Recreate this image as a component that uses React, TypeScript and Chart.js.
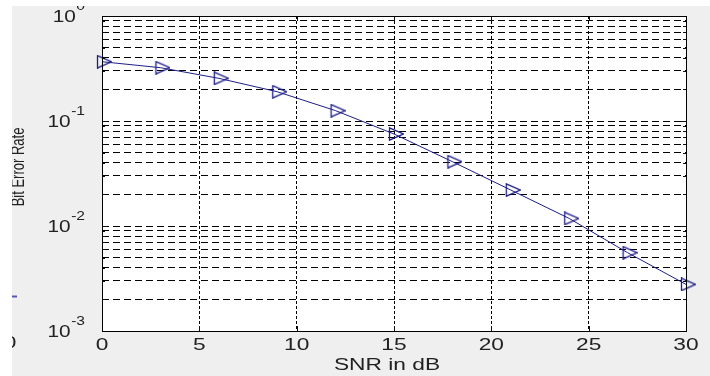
import { useEffect, useRef } from "react";
import { Chart, registerables } from "chart.js";

Chart.register(...registerables);

// ---- data ----
const snrDb = [0, 3, 6, 9, 12, 15, 18, 21, 24, 27, 30];
const bitErrorRate = [0.367, 0.322, 0.255, 0.19, 0.1255, 0.0752, 0.041, 0.022, 0.0118, 0.00557, 0.00278];
const xTickValues = [0, 5, 10, 15, 20, 25, 30];
const yDecadeExponents = [0, -1, -2, -3];
const yMinorMultipliers = [1, 2, 3, 4, 5, 6, 7, 8, 9];
const xTitle = "SNR in dB";
const yTitle = "Bit Error Rate";

const FONT = '"Liberation Sans", Arial, sans-serif';
const STRETCH = 1.42;
const TEXT_COLOR = "#222222";
const LINE_COLOR = "#1e1e88";

function stretchedText(
  ctx: CanvasRenderingContext2D,
  text: string,
  x: number,
  y: number,
  align: "left" | "center" | "right",
  font: string,
  sx = STRETCH
) {
  ctx.save();
  ctx.font = font;
  ctx.textBaseline = "middle";
  ctx.textAlign = "left";
  const w = ctx.measureText(text).width * sx;
  const left = align === "center" ? x - w / 2 : align === "right" ? x - w : x;
  ctx.translate(left, y);
  ctx.scale(sx, 1);
  ctx.fillText(text, 0, 0);
  ctx.restore();
  return w;
}

function makeMarker(): HTMLCanvasElement {
  const c = document.createElement("canvas");
  c.width = 20;
  c.height = 14;
  const g = c.getContext("2d")!;
  g.strokeStyle = LINE_COLOR;
  g.lineWidth = 1.3;
  g.beginPath();
  g.moveTo(5.5, 0.8);
  g.lineTo(19.3, 7);
  g.lineTo(5.5, 13.2);
  g.closePath();
  g.stroke();
  return c;
}

const matlabPlugin = {
  id: "matlabLook",
  beforeDraw(chart: any) {
    const { ctx, chartArea: a, width, height } = chart;
    ctx.save();
    ctx.fillStyle = "#efefef";
    ctx.fillRect(0, 0, width, height);
    ctx.fillStyle = "#ffffff";
    ctx.fillRect(a.left, a.top, a.right - a.left, a.bottom - a.top);
    ctx.restore();
  },
  afterDraw(chart: any) {
    const { ctx, chartArea: a, width, height } = chart;
    const xs = chart.scales.x;
    const ys = chart.scales.y;
    ctx.save();
    // inner tick marks
    ctx.strokeStyle = "#111";
    ctx.lineWidth = 1;
    ctx.beginPath();
    for (const v of xTickValues) {
      const px = Math.round(xs.getPixelForValue(v)) + 0.5;
      ctx.moveTo(px, a.bottom);
      ctx.lineTo(px, a.bottom - 5);
      ctx.moveTo(px, a.top);
      ctx.lineTo(px, a.top + 5);
    }
    for (const t of ys.ticks) {
      const py = Math.round(ys.getPixelForValue(t.value)) + 0.5;
      const len = t.major ? 5 : 3;
      ctx.moveTo(a.left, py);
      ctx.lineTo(a.left + len, py);
      ctx.moveTo(a.right, py);
      ctx.lineTo(a.right - len, py);
    }
    ctx.stroke();
    // box
    ctx.strokeStyle = "#000";
    ctx.strokeRect(Math.round(a.left) + 0.5, Math.round(a.top) + 0.5, Math.round(a.right - a.left), Math.round(a.bottom - a.top));

    ctx.fillStyle = TEXT_COLOR;
    // x tick labels
    for (const v of xTickValues) {
      stretchedText(ctx, String(v), xs.getPixelForValue(v), 346, "center", `16px ${FONT}`);
    }
    // y tick labels (10^k)
    for (const e of yDecadeExponents) {
      const py = ys.getPixelForValue(Math.pow(10, e));
      const expW = stretchedText(ctx, e === 0 ? "0" : "-" + Math.abs(e), 85, py - 9, "right", `12px ${FONT}`, 1.3);
      stretchedText(ctx, "10", 85 - expW - 0.5, py + 1.5, "right", `16px ${FONT}`, 1.3);
    }
    // x title
    stretchedText(ctx, xTitle, 387, 366, "center", `16px ${FONT}`);
    // y title (rotated)
    ctx.save();
    ctx.translate(19, 167);
    ctx.rotate(-Math.PI / 2);
    ctx.font = `13px ${FONT}`;
    ctx.textAlign = "center";
    ctx.textBaseline = "middle";
    ctx.scale(1, 1.4);
    ctx.fillText(yTitle, 0, 0);
    ctx.restore();

    // leftover fragments at the left edge
    stretchedText(ctx, "0", 10, 344, "center", `16px ${FONT}`);
    ctx.strokeStyle = "#5656b0";
    ctx.lineWidth = 2;
    ctx.beginPath();
    ctx.moveTo(12, 296.5);
    ctx.lineTo(17, 296.5);
    ctx.stroke();

    // white strips at the top and left edges
    ctx.fillStyle = "#ffffff";
    ctx.fillRect(0, 0, width, 6);
    ctx.fillRect(0, 0, 12, height);
    ctx.restore();
  },
};

export default function App() {
  const ref = useRef<HTMLCanvasElement | null>(null);
  useEffect(() => {
    if (!ref.current) return;
    const marker = makeMarker();
    const chart = new Chart(ref.current, {
      type: "line",
      data: {
        labels: snrDb,
        datasets: [
          {
            data: snrDb.map((x, i) => ({ x, y: bitErrorRate[i] })),
            borderColor: LINE_COLOR,
            borderWidth: 1,
            pointStyle: marker as any,
            pointRadius: 7,
            tension: 0,
            fill: false,
            clip: false as any,
          },
        ],
      },
      options: {
        animation: false,
        responsive: false,
        devicePixelRatio: 1,
        layout: { padding: { left: 0, right: 24, top: 16, bottom: 0 } },
        plugins: { legend: { display: false }, tooltip: { enabled: false } },
        events: [],
        scales: {
          x: {
            type: "linear",
            min: 0,
            max: 30,
            ticks: { display: false, stepSize: 5 },
            grid: { color: "#000000", lineWidth: 1, drawTicks: false },
            border: { display: false, dash: [3, 2] },
            afterFit: (s: any) => {
              s.height = 45;
            },
          },
          y: {
            type: "logarithmic",
            min: 0.001,
            max: 1,
            ticks: { display: false, autoSkip: false },
            grid: { color: "#000000", lineWidth: 1, drawTicks: false },
            border: { display: false, dash: [7, 4] },
            afterBuildTicks: (s: any) => {
              const t: any[] = [];
              for (const e of [-3, -2, -1]) {
                for (const m of yMinorMultipliers) {
                  t.push({ value: m * Math.pow(10, e), major: m === 1 });
                }
              }
              t.push({ value: 1, major: true });
              s.ticks = t;
            },
            afterFit: (s: any) => {
              s.width = 102;
            },
          },
        },
      },
      plugins: [matlabPlugin],
    });
    return () => chart.destroy();
  }, []);
  return (
    <div style={{ position: "absolute", left: 0, top: 0, width: 710, height: 376 }}>
      <canvas ref={ref} width={710} height={376} style={{ display: "block" }} />
    </div>
  );
}
